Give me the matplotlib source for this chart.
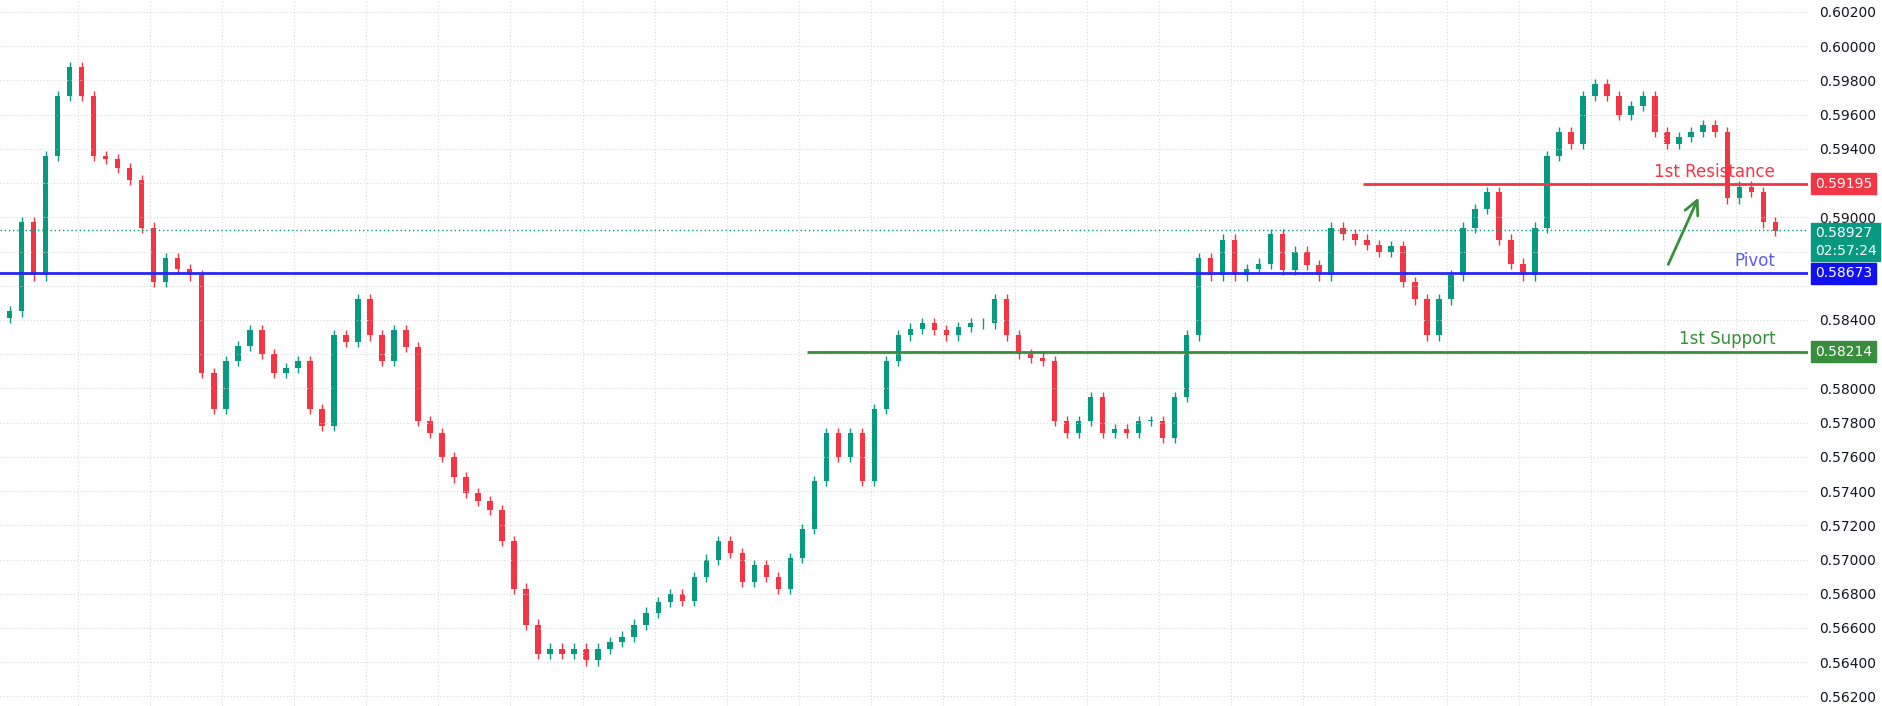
import matplotlib
matplotlib.use("Agg")
import matplotlib.pyplot as plt
import numpy as np

# closing prices, roughly one per candle group
closes = [0.5845, 0.5897, 0.5866, 0.5936, 0.5971, 0.5988, 0.5971, 0.5936, 0.5934, 0.5929,
          0.5922, 0.5894, 0.5862, 0.5876, 0.5870, 0.5866, 0.5809, 0.5788, 0.5816, 0.5825,
          0.5834, 0.5820, 0.5809, 0.5812, 0.5816, 0.5788, 0.5778, 0.5831, 0.5827, 0.5852,
          0.5831, 0.5816, 0.5834, 0.5824, 0.5781, 0.5774, 0.5760, 0.5748, 0.5739, 0.5734,
          0.5729, 0.5711, 0.5683, 0.5662, 0.5645, 0.5648, 0.5645, 0.5648, 0.5641, 0.5648,
          0.5652, 0.5655, 0.5662, 0.5669, 0.5675, 0.5680, 0.5676, 0.5690, 0.5700, 0.5711,
          0.5704, 0.5687, 0.5697, 0.5690, 0.5683, 0.5701, 0.5718, 0.5746, 0.5774, 0.5760,
          0.5774, 0.5746, 0.5788, 0.5816, 0.5831, 0.5835, 0.5838, 0.5834, 0.5831, 0.5836,
          0.5838, 0.5838, 0.5852, 0.5831, 0.5820, 0.5818, 0.5816, 0.5781, 0.5774, 0.5781,
          0.5795, 0.5774, 0.5776, 0.5774, 0.5781, 0.5781, 0.5771, 0.5795, 0.5831, 0.5876,
          0.5866, 0.5887, 0.5866, 0.5870, 0.5873, 0.5890, 0.5869, 0.5880, 0.5872, 0.5866,
          0.5894, 0.5890, 0.5887, 0.5884, 0.5880, 0.5883, 0.5862, 0.5852, 0.5831, 0.5852,
          0.5866, 0.5894, 0.5905, 0.5915, 0.5887, 0.5873, 0.5866, 0.5894, 0.5936, 0.5950,
          0.5943, 0.5971, 0.5978, 0.5971, 0.5960, 0.5965, 0.5971, 0.5950, 0.5943, 0.5947,
          0.5950, 0.5954, 0.5950, 0.5911, 0.5918, 0.5915, 0.5897, 0.5892]

resistance = 0.59195
pivot = 0.58673
support = 0.58214
last_price = 0.58927
y_ticks = np.arange(0.562, 0.6021, 0.002)
hidden_ticks = ["0.59200", "0.58800", "0.58600", "0.58200"]  # covered by the price boxes

up_col = "#089981"
down_col = "#f23645"

opens = [closes[0] - 0.0004] + closes[:-1]

fig = plt.figure(figsize=(18.83, 7.06), dpi=100)
ax = fig.add_axes([0, 0.0, 0.96, 1.0])
ax.set_xlim(-0.8, 149.7)
ax.set_ylim(0.56144, 0.6027)

for i, (o, c) in enumerate(zip(opens, closes)):
    col = up_col if c >= o else down_col
    ax.vlines(i, min(o, c) - 0.0003, max(o, c) + 0.0003, color=col, lw=1)
    ax.bar(i, max(abs(c - o), 0.00005), bottom=min(o, c), width=0.45, color=col)

ax.axhline(pivot, color="#2727f5", lw=2)
ax.hlines(resistance, 112.7, 149.7, color=down_col, lw=2)
ax.hlines(support, 66.4, 149.7, color="#388e3c", lw=2)
ax.axhline(last_price, color=up_col, lw=1, ls=(0, (1, 2)))

ax.text(147, resistance + 0.0002, "1st Resistance", color=down_col, fontsize=12, ha="right", va="bottom")
ax.text(147, pivot + 0.0002, "Pivot", color="#5b5bf5", fontsize=12, ha="right", va="bottom")
ax.text(147, support + 0.0002, "1st Support", color="#388e3c", fontsize=12, ha="right", va="bottom")
ax.annotate("", xy=(140.7, 0.5913), xytext=(138, 0.5871),
            arrowprops=dict(arrowstyle="->", color="#388e3c", lw=2, mutation_scale=25))

ax.set_yticks(y_ticks)
ax.yaxis.tick_right()
labels = [f"{v:.5f}" for v in y_ticks]
ax.set_yticklabels(["" if t in hidden_ticks else t for t in labels], fontsize=10, color="#131722")
ax.set_xticks(np.arange(5.7, 150, 6))
ax.set_xticklabels([])
ax.tick_params(length=0, pad=8)
ax.grid(True, color="#d8d8d8", ls=(0, (1, 2)), lw=0.8)
for s in ax.spines.values():
    s.set_visible(False)

for val, col, txt in [(resistance, down_col, "0.59195"), (pivot, "#1010f0", "0.58673"),
                      (support, "#388e3c", "0.58214")]:
    ax.text(1.004, val, txt, transform=ax.get_yaxis_transform(), fontsize=10, color="white",
            va="center", ha="left", bbox=dict(boxstyle="square,pad=0.25", fc=col, ec=col))
ax.text(1.004, last_price + 0.0002, "0.58927\n02:57:24", transform=ax.get_yaxis_transform(),
        fontsize=10, color="white", va="top", ha="left", linespacing=1.3,
        bbox=dict(boxstyle="square,pad=0.25", fc=up_col, ec=up_col))

fig.savefig("out.png", dpi=100)
